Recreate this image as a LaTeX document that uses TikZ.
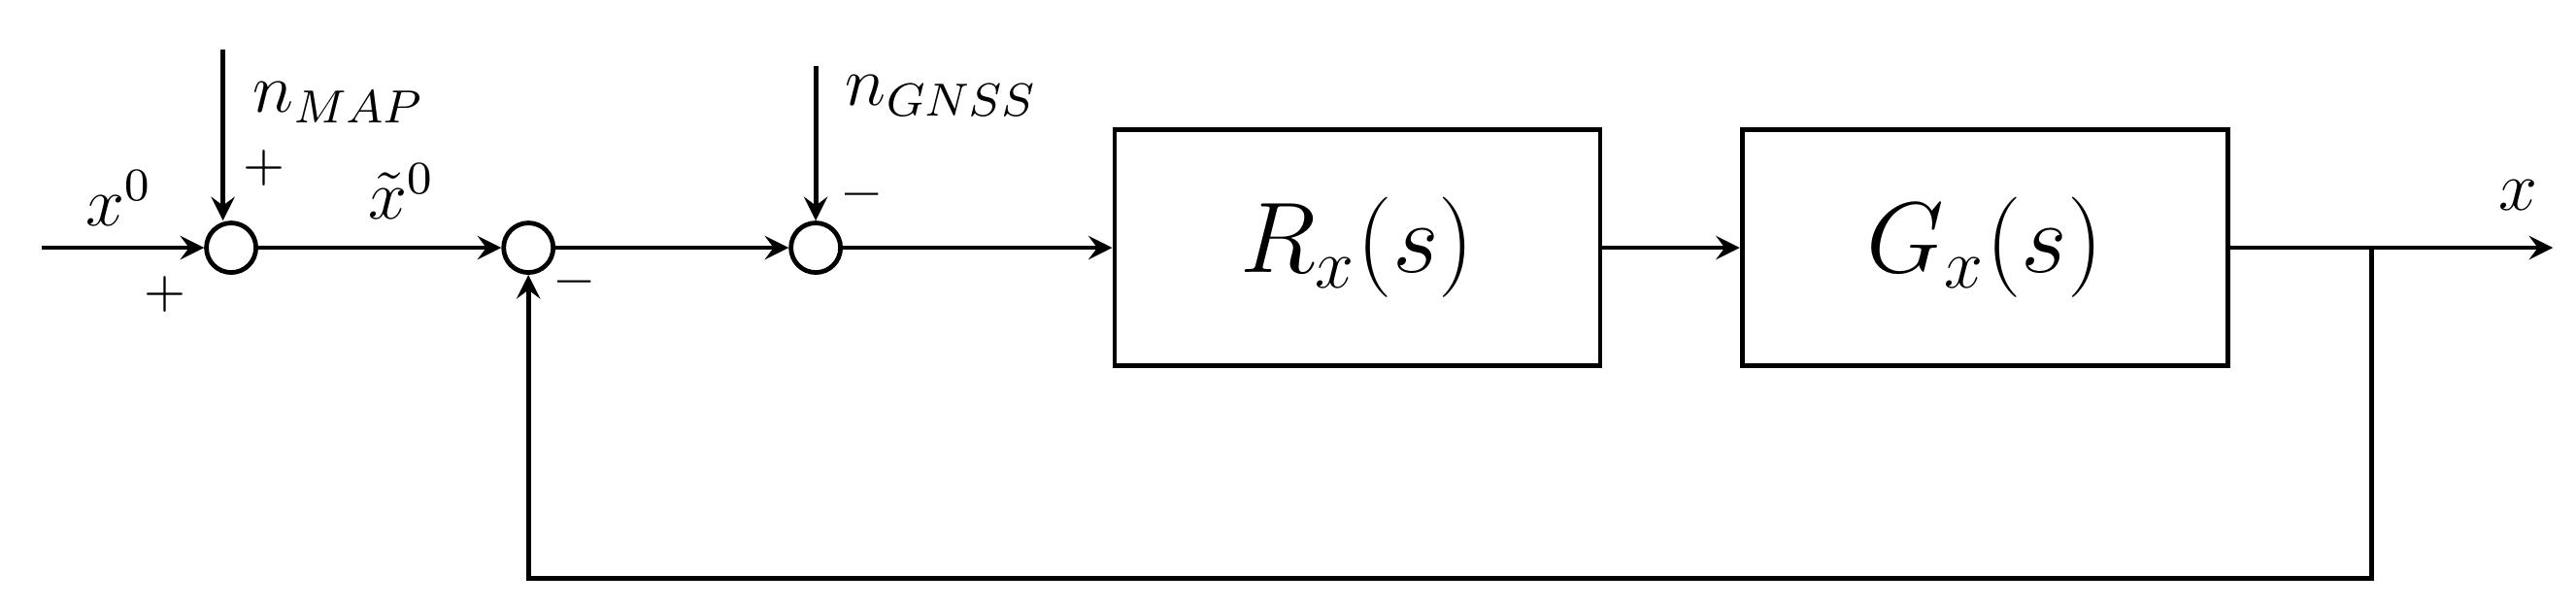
\documentclass[tikz,border=0pt]{standalone}
\usepackage{amsmath}
\usepackage{tikz}
\usetikzlibrary{arrows,shapes,positioning}
\tikzstyle{arrow}   = [thick,->,>=stealth]
\tikzstyle{sumnode} = [draw,thick,circle,minimum size=0.3cm,inner sep=0pt]
\tikzstyle{block}   = [draw,thick,rectangle,minimum width=2.94cm,minimum height=1.43cm]
\begin{document}
\begin{tikzpicture}
        \useasboundingbox (0,0) rectangle (15.6,3.68);
        \coordinate (in) at (0.25,2.18);
        \node[sumnode] (s1) at (1.40,2.18) {};
        \node[sumnode] (s2) at (3.20,2.18) {};
        \node[sumnode] (s3) at (4.94,2.18) {};
        \node[block] (R) at (8.22,2.18) {\LARGE $R_x(s)$};
        \node[block] (G) at (12.02,2.18) {\LARGE $G_x(s)$};
        \coordinate (out) at (15.46,2.18);
        \coordinate (nmap) at (1.35,3.38);
        \coordinate (ngnss) at (4.94,3.28);
        \coordinate (split) at (14.36,2.18);
        \coordinate (fb) at (14.36,0.18);

        \draw [arrow] (in) -- (s1);
        \draw [arrow] (nmap) -- (nmap |- s1.north);
        \draw [arrow] (s1) -- (s2);
        \draw [arrow] (s2) -- (s3);
        \draw [arrow] (ngnss) -- (s3);
        \draw [arrow] (s3) -- (R);
        \draw [arrow] (R) -- (G);
        \draw [arrow] (G) -- (out);
        \draw [arrow] (split) -- (fb) -| (s2);

        \node at (0.72,2.48) {\large $x^0$};
        \node at (2.05,3.06) {\large $n_{MAP}$};
        \node at (1.60,2.66) {\small $+$};
        \node at (1.00,1.90) {\small $+$};
        \node at (2.43,2.52) {\large $\tilde{x}^0$};
        \node at (3.48,1.93) {\textbf{--}};
        \node at (5.70,3.10) {\large $n_{GNSS}$};
        \node at (5.22,2.46) {\textbf{--}};
        \node at (15.25,2.50) {\large $x$};
    \end{tikzpicture}
\end{document}
